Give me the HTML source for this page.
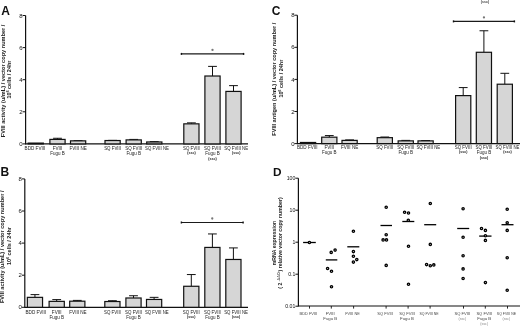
<!DOCTYPE html>
<html><head><meta charset="utf-8"><style>
html,body{margin:0;padding:0;background:#fff;}
body{width:520px;height:326px;overflow:hidden;}
svg{display:block;will-change:transform;font-family:"Liberation Sans", sans-serif;}
</style></head><body>
<svg width="520" height="326" viewBox="0 0 520 326">
<rect width="520" height="326" fill="#fff"/>
<text x="485" y="3.0" font-size="3.6" font-weight="bold" text-anchor="middle" fill="#444">(ssc)</text>
<text x="1.2" y="14.6" font-size="12" font-weight="bold" fill="#111">A</text>
<line x1="25.6" y1="15.5" x2="25.6" y2="144.5" stroke="#111" stroke-width="1.2"/>
<line x1="25.6" y1="143.9" x2="248" y2="143.9" stroke="#111" stroke-width="1.2"/>
<line x1="22.6" y1="143.9" x2="25.6" y2="143.9" stroke="#111" stroke-width="1"/>
<text x="22.7" y="146.05" font-size="6" text-anchor="end" fill="#111">0</text>
<line x1="22.6" y1="111.8" x2="25.6" y2="111.8" stroke="#111" stroke-width="1"/>
<text x="22.7" y="113.95" font-size="6" text-anchor="end" fill="#111">2</text>
<line x1="22.6" y1="79.7" x2="25.6" y2="79.7" stroke="#111" stroke-width="1"/>
<text x="22.7" y="81.85" font-size="6" text-anchor="end" fill="#111">4</text>
<line x1="22.6" y1="47.6" x2="25.6" y2="47.6" stroke="#111" stroke-width="1"/>
<text x="22.7" y="49.75" font-size="6" text-anchor="end" fill="#111">6</text>
<line x1="22.6" y1="15.5" x2="25.6" y2="15.5" stroke="#111" stroke-width="1"/>
<text x="22.7" y="17.65" font-size="6" text-anchor="end" fill="#111">8</text>
<text transform="translate(5.1,80.9) rotate(-90)" font-size="5.6" font-weight="bold" text-anchor="middle" fill="#222">FVIII activity (u/mL) / vector copy number /</text>
<text transform="translate(11.1,79.5) rotate(-90)" font-size="5.5" font-weight="bold" text-anchor="middle" fill="#222">10<tspan font-size="3.3" dy="-1.8">6</tspan><tspan dy="1.8"> cells / 24hr</tspan></text>
<rect x="28.15" y="143.1" width="15.2" height="0.8" fill="#d6d6d6" stroke="#111" stroke-width="1.2"/>
<text x="34.95" y="149.6" font-size="4.6" text-anchor="middle" fill="#222">BDD FVIII</text>
<line x1="57.5" y1="138.28" x2="57.5" y2="139.41" stroke="#111" stroke-width="1"/>
<line x1="53.1" y1="138.28" x2="61.9" y2="138.28" stroke="#111" stroke-width="1"/>
<rect x="49.9" y="139.41" width="15.2" height="4.49" fill="#d6d6d6" stroke="#111" stroke-width="1.2"/>
<text x="57.5" y="149.6" font-size="4.6" text-anchor="middle" fill="#222">FVIII</text>
<text x="57.5" y="154.9" font-size="4.5" text-anchor="middle" fill="#222">Fugu B</text>
<line x1="78.1" y1="140.69" x2="78.1" y2="140.85" stroke="#111" stroke-width="1"/>
<line x1="73.7" y1="140.69" x2="82.5" y2="140.69" stroke="#111" stroke-width="1"/>
<rect x="70.5" y="140.85" width="15.2" height="3.05" fill="#d6d6d6" stroke="#111" stroke-width="1.2"/>
<text x="78.1" y="149.6" font-size="4.6" text-anchor="middle" fill="#222">FVIII NE</text>
<line x1="112.6" y1="140.37" x2="112.6" y2="140.53" stroke="#111" stroke-width="1"/>
<line x1="108.2" y1="140.37" x2="117.0" y2="140.37" stroke="#111" stroke-width="1"/>
<rect x="105.0" y="140.53" width="15.2" height="3.37" fill="#d6d6d6" stroke="#111" stroke-width="1.2"/>
<text x="112.6" y="149.6" font-size="4.6" text-anchor="middle" fill="#222" textLength="16.9" lengthAdjust="spacingAndGlyphs">SQ FVIII</text>
<line x1="133.7" y1="139.41" x2="133.7" y2="139.89" stroke="#111" stroke-width="1"/>
<line x1="129.3" y1="139.41" x2="138.1" y2="139.41" stroke="#111" stroke-width="1"/>
<rect x="126.1" y="139.89" width="15.2" height="4.01" fill="#d6d6d6" stroke="#111" stroke-width="1.2"/>
<text x="133.7" y="149.6" font-size="4.6" text-anchor="middle" fill="#222" textLength="16.9" lengthAdjust="spacingAndGlyphs">SQ FVIII</text>
<text x="133.7" y="154.9" font-size="4.5" text-anchor="middle" fill="#222">Fugu B</text>
<line x1="154.3" y1="141.65" x2="154.3" y2="141.97" stroke="#111" stroke-width="1"/>
<line x1="149.9" y1="141.65" x2="158.7" y2="141.65" stroke="#111" stroke-width="1"/>
<rect x="146.7" y="141.97" width="15.2" height="1.93" fill="#d6d6d6" stroke="#111" stroke-width="1.2"/>
<text x="157.0" y="149.6" font-size="4.6" text-anchor="middle" fill="#222" textLength="23.8" lengthAdjust="spacingAndGlyphs">SQ FVIII NE</text>
<line x1="191.4" y1="122.87" x2="191.4" y2="123.84" stroke="#111" stroke-width="1"/>
<line x1="187.0" y1="122.87" x2="195.8" y2="122.87" stroke="#111" stroke-width="1"/>
<rect x="183.8" y="123.84" width="15.2" height="20.06" fill="#d6d6d6" stroke="#111" stroke-width="1.2"/>
<text x="191.4" y="149.6" font-size="4.6" text-anchor="middle" fill="#222" textLength="16.9" lengthAdjust="spacingAndGlyphs">SQ FVIII</text>
<text x="191.4" y="154.1" font-size="3.6" text-anchor="middle" fill="#222" font-weight="bold">(ssc)</text>
<line x1="212.5" y1="66.38" x2="212.5" y2="76.01" stroke="#111" stroke-width="1"/>
<line x1="208.1" y1="66.38" x2="216.9" y2="66.38" stroke="#111" stroke-width="1"/>
<rect x="204.9" y="76.01" width="15.2" height="67.89" fill="#d6d6d6" stroke="#111" stroke-width="1.2"/>
<text x="212.5" y="149.6" font-size="4.6" text-anchor="middle" fill="#222" textLength="16.9" lengthAdjust="spacingAndGlyphs">SQ FVIII</text>
<text x="212.5" y="154.9" font-size="4.5" text-anchor="middle" fill="#222">Fugu B</text>
<text x="212.5" y="159.5" font-size="3.6" text-anchor="middle" fill="#222" font-weight="bold">(ssc)</text>
<line x1="233.5" y1="85.64" x2="233.5" y2="91.42" stroke="#111" stroke-width="1"/>
<line x1="229.1" y1="85.64" x2="237.9" y2="85.64" stroke="#111" stroke-width="1"/>
<rect x="225.9" y="91.42" width="15.2" height="52.48" fill="#d6d6d6" stroke="#111" stroke-width="1.2"/>
<text x="236.2" y="149.6" font-size="4.6" text-anchor="middle" fill="#222" textLength="23.8" lengthAdjust="spacingAndGlyphs">SQ FVIII NE</text>
<text x="236.2" y="154.1" font-size="3.6" text-anchor="middle" fill="#222" font-weight="bold">(ssc)</text>
<line x1="181.4" y1="53.9" x2="243.6" y2="53.9" stroke="#1a1a1a" stroke-width="1.15"/>
<line x1="181.4" y1="52.9" x2="181.4" y2="54.9" stroke="#111" stroke-width="1.4"/>
<line x1="243.6" y1="52.9" x2="243.6" y2="54.9" stroke="#111" stroke-width="1.4"/>
<circle cx="212.5" cy="49.9" r="1.15" fill="#777"/>
<text x="0.6" y="176.2" font-size="12" font-weight="bold" fill="#111">B</text>
<line x1="24.8" y1="178.9" x2="24.8" y2="307.9" stroke="#111" stroke-width="1.2"/>
<line x1="24.8" y1="307.3" x2="248" y2="307.3" stroke="#111" stroke-width="1.2"/>
<line x1="21.8" y1="307.3" x2="24.8" y2="307.3" stroke="#111" stroke-width="1"/>
<text x="21.9" y="309.45" font-size="6" text-anchor="end" fill="#111">0</text>
<line x1="21.8" y1="275.2" x2="24.8" y2="275.2" stroke="#111" stroke-width="1"/>
<text x="21.9" y="277.35" font-size="6" text-anchor="end" fill="#111">2</text>
<line x1="21.8" y1="243.1" x2="24.8" y2="243.1" stroke="#111" stroke-width="1"/>
<text x="21.9" y="245.25" font-size="6" text-anchor="end" fill="#111">4</text>
<line x1="21.8" y1="211.0" x2="24.8" y2="211.0" stroke="#111" stroke-width="1"/>
<text x="21.9" y="213.15" font-size="6" text-anchor="end" fill="#111">6</text>
<line x1="21.8" y1="178.9" x2="24.8" y2="178.9" stroke="#111" stroke-width="1"/>
<text x="21.9" y="181.05" font-size="6" text-anchor="end" fill="#111">8</text>
<text transform="translate(4.3,246.8) rotate(-90)" font-size="5.6" font-weight="bold" text-anchor="middle" fill="#222">FVIII activity (u/mL) / vector copy number /</text>
<text transform="translate(10.6,246) rotate(-90)" font-size="5.5" font-weight="bold" text-anchor="middle" fill="#222">10<tspan font-size="3.3" dy="-1.8">6</tspan><tspan dy="1.8"> cells / 24hr</tspan></text>
<line x1="34.95" y1="294.62" x2="34.95" y2="297.35" stroke="#111" stroke-width="1"/>
<line x1="30.55" y1="294.62" x2="39.35" y2="294.62" stroke="#111" stroke-width="1"/>
<rect x="27.35" y="297.35" width="15.2" height="9.95" fill="#d6d6d6" stroke="#111" stroke-width="1.2"/>
<text x="35.85" y="313.5" font-size="4.6" text-anchor="middle" fill="#222">BDD FVIII</text>
<line x1="56.7" y1="299.6" x2="56.7" y2="301.36" stroke="#111" stroke-width="1"/>
<line x1="52.3" y1="299.6" x2="61.1" y2="299.6" stroke="#111" stroke-width="1"/>
<rect x="49.1" y="301.36" width="15.2" height="5.94" fill="#d6d6d6" stroke="#111" stroke-width="1.2"/>
<text x="56.7" y="313.5" font-size="4.6" text-anchor="middle" fill="#222">FVIII</text>
<text x="56.7" y="318.8" font-size="4.5" text-anchor="middle" fill="#222">Fugu B</text>
<line x1="77.3" y1="300.4" x2="77.3" y2="301.2" stroke="#111" stroke-width="1"/>
<line x1="72.9" y1="300.4" x2="81.7" y2="300.4" stroke="#111" stroke-width="1"/>
<rect x="69.7" y="301.2" width="15.2" height="6.1" fill="#d6d6d6" stroke="#111" stroke-width="1.2"/>
<text x="78.0" y="313.5" font-size="4.6" text-anchor="middle" fill="#222">FVIII NE</text>
<line x1="112.4" y1="300.72" x2="112.4" y2="301.52" stroke="#111" stroke-width="1"/>
<line x1="108" y1="300.72" x2="116.8" y2="300.72" stroke="#111" stroke-width="1"/>
<rect x="104.8" y="301.52" width="15.2" height="5.78" fill="#d6d6d6" stroke="#111" stroke-width="1.2"/>
<text x="112.4" y="313.5" font-size="4.6" text-anchor="middle" fill="#222" textLength="16.9" lengthAdjust="spacingAndGlyphs">SQ FVIII</text>
<line x1="133.5" y1="295.74" x2="133.5" y2="297.99" stroke="#111" stroke-width="1"/>
<line x1="129.1" y1="295.74" x2="137.9" y2="295.74" stroke="#111" stroke-width="1"/>
<rect x="125.9" y="297.99" width="15.2" height="9.31" fill="#d6d6d6" stroke="#111" stroke-width="1.2"/>
<text x="133.5" y="313.5" font-size="4.6" text-anchor="middle" fill="#222" textLength="16.9" lengthAdjust="spacingAndGlyphs">SQ FVIII</text>
<text x="133.5" y="318.8" font-size="4.5" text-anchor="middle" fill="#222">Fugu B</text>
<line x1="154.1" y1="297.35" x2="154.1" y2="299.44" stroke="#111" stroke-width="1"/>
<line x1="149.7" y1="297.35" x2="158.5" y2="297.35" stroke="#111" stroke-width="1"/>
<rect x="146.5" y="299.44" width="15.2" height="7.86" fill="#d6d6d6" stroke="#111" stroke-width="1.2"/>
<text x="156.8" y="313.5" font-size="4.6" text-anchor="middle" fill="#222" textLength="23.8" lengthAdjust="spacingAndGlyphs">SQ FVIII NE</text>
<line x1="191.3" y1="274.56" x2="191.3" y2="286.27" stroke="#111" stroke-width="1"/>
<line x1="186.9" y1="274.56" x2="195.7" y2="274.56" stroke="#111" stroke-width="1"/>
<rect x="183.7" y="286.27" width="15.2" height="21.03" fill="#d6d6d6" stroke="#111" stroke-width="1.2"/>
<text x="191.3" y="313.5" font-size="4.6" text-anchor="middle" fill="#222" textLength="16.9" lengthAdjust="spacingAndGlyphs">SQ FVIII</text>
<text x="191.3" y="318.0" font-size="3.6" text-anchor="middle" fill="#222" font-weight="bold">(ssc)</text>
<line x1="212.4" y1="233.95" x2="212.4" y2="247.43" stroke="#111" stroke-width="1"/>
<line x1="208" y1="233.95" x2="216.8" y2="233.95" stroke="#111" stroke-width="1"/>
<rect x="204.8" y="247.43" width="15.2" height="59.87" fill="#d6d6d6" stroke="#111" stroke-width="1.2"/>
<text x="212.4" y="313.5" font-size="4.6" text-anchor="middle" fill="#222" textLength="16.9" lengthAdjust="spacingAndGlyphs">SQ FVIII</text>
<text x="212.4" y="318.8" font-size="4.5" text-anchor="middle" fill="#222">Fugu B</text>
<line x1="233.4" y1="247.92" x2="233.4" y2="259.47" stroke="#111" stroke-width="1"/>
<line x1="229" y1="247.92" x2="237.8" y2="247.92" stroke="#111" stroke-width="1"/>
<rect x="225.8" y="259.47" width="15.2" height="47.83" fill="#d6d6d6" stroke="#111" stroke-width="1.2"/>
<text x="236.1" y="313.5" font-size="4.6" text-anchor="middle" fill="#222" textLength="23.8" lengthAdjust="spacingAndGlyphs">SQ FVIII NE</text>
<text x="236.1" y="318.0" font-size="3.6" text-anchor="middle" fill="#222" font-weight="bold">(ssc)</text>
<line x1="181.4" y1="222.5" x2="243.1" y2="222.5" stroke="#1a1a1a" stroke-width="1.15"/>
<line x1="181.4" y1="221.5" x2="181.4" y2="223.5" stroke="#111" stroke-width="1.4"/>
<line x1="243.1" y1="221.5" x2="243.1" y2="223.5" stroke="#111" stroke-width="1.4"/>
<circle cx="212.25" cy="218.5" r="1.15" fill="#777"/>
<text x="271.8" y="14.8" font-size="12" font-weight="bold" fill="#111">C</text>
<line x1="297.4" y1="15.2" x2="297.4" y2="144.2" stroke="#111" stroke-width="1.2"/>
<line x1="297.4" y1="143.6" x2="521" y2="143.6" stroke="#111" stroke-width="1.2"/>
<line x1="294.4" y1="143.6" x2="297.4" y2="143.6" stroke="#111" stroke-width="1"/>
<text x="294.5" y="145.75" font-size="6" text-anchor="end" fill="#111">0</text>
<line x1="294.4" y1="111.5" x2="297.4" y2="111.5" stroke="#111" stroke-width="1"/>
<text x="294.5" y="113.65" font-size="6" text-anchor="end" fill="#111">2</text>
<line x1="294.4" y1="79.4" x2="297.4" y2="79.4" stroke="#111" stroke-width="1"/>
<text x="294.5" y="81.55" font-size="6" text-anchor="end" fill="#111">4</text>
<line x1="294.4" y1="47.3" x2="297.4" y2="47.3" stroke="#111" stroke-width="1"/>
<text x="294.5" y="49.45" font-size="6" text-anchor="end" fill="#111">6</text>
<line x1="294.4" y1="15.2" x2="297.4" y2="15.2" stroke="#111" stroke-width="1"/>
<text x="294.5" y="17.35" font-size="6" text-anchor="end" fill="#111">8</text>
<text transform="translate(276.2,79.2) rotate(-90)" font-size="5.6" font-weight="bold" text-anchor="middle" fill="#222">FVIII antigen (u/mL) / vector copy number /</text>
<text transform="translate(282.5,78.6) rotate(-90)" font-size="5.5" font-weight="bold" text-anchor="middle" fill="#222">10<tspan font-size="3.3" dy="-1.8">6</tspan><tspan dy="1.8"> cells / 24hr</tspan></text>
<rect x="300.45" y="142.48" width="15.2" height="1.12" fill="#d6d6d6" stroke="#111" stroke-width="1.2"/>
<text x="307.25" y="148.6" font-size="4.6" text-anchor="middle" fill="#222">BDD FVIII</text>
<line x1="329.3" y1="135.57" x2="329.3" y2="137.18" stroke="#111" stroke-width="1"/>
<line x1="324.9" y1="135.57" x2="333.7" y2="135.57" stroke="#111" stroke-width="1"/>
<rect x="321.7" y="137.18" width="15.2" height="6.42" fill="#d6d6d6" stroke="#111" stroke-width="1.2"/>
<text x="329.3" y="148.6" font-size="4.6" text-anchor="middle" fill="#222">FVIII</text>
<text x="329.3" y="153.9" font-size="4.5" text-anchor="middle" fill="#222">Fugu B</text>
<line x1="349.6" y1="139.91" x2="349.6" y2="140.39" stroke="#111" stroke-width="1"/>
<line x1="345.2" y1="139.91" x2="354" y2="139.91" stroke="#111" stroke-width="1"/>
<rect x="342" y="140.39" width="15.2" height="3.21" fill="#d6d6d6" stroke="#111" stroke-width="1.2"/>
<text x="349.6" y="148.6" font-size="4.6" text-anchor="middle" fill="#222">FVIII NE</text>
<line x1="384.8" y1="137.02" x2="384.8" y2="137.66" stroke="#111" stroke-width="1"/>
<line x1="380.4" y1="137.02" x2="389.2" y2="137.02" stroke="#111" stroke-width="1"/>
<rect x="377.2" y="137.66" width="15.2" height="5.94" fill="#d6d6d6" stroke="#111" stroke-width="1.2"/>
<text x="384.8" y="148.6" font-size="4.6" text-anchor="middle" fill="#222" textLength="16.9" lengthAdjust="spacingAndGlyphs">SQ FVIII</text>
<line x1="405.75" y1="140.39" x2="405.75" y2="140.87" stroke="#111" stroke-width="1"/>
<line x1="401.35" y1="140.39" x2="410.15" y2="140.39" stroke="#111" stroke-width="1"/>
<rect x="398.15" y="140.87" width="15.2" height="2.73" fill="#d6d6d6" stroke="#111" stroke-width="1.2"/>
<text x="405.75" y="148.6" font-size="4.6" text-anchor="middle" fill="#222" textLength="16.9" lengthAdjust="spacingAndGlyphs">SQ FVIII</text>
<text x="405.75" y="153.9" font-size="4.5" text-anchor="middle" fill="#222">Fugu B</text>
<line x1="425.6" y1="140.55" x2="425.6" y2="140.87" stroke="#111" stroke-width="1"/>
<line x1="421.2" y1="140.55" x2="430.0" y2="140.55" stroke="#111" stroke-width="1"/>
<rect x="418.0" y="140.87" width="15.2" height="2.73" fill="#d6d6d6" stroke="#111" stroke-width="1.2"/>
<text x="428.3" y="148.6" font-size="4.6" text-anchor="middle" fill="#222" textLength="23.8" lengthAdjust="spacingAndGlyphs">SQ FVIII NE</text>
<line x1="463.2" y1="87.59" x2="463.2" y2="95.61" stroke="#111" stroke-width="1"/>
<line x1="458.8" y1="87.59" x2="467.6" y2="87.59" stroke="#111" stroke-width="1"/>
<rect x="455.6" y="95.61" width="15.2" height="47.99" fill="#d6d6d6" stroke="#111" stroke-width="1.2"/>
<text x="463.2" y="148.6" font-size="4.6" text-anchor="middle" fill="#222" textLength="16.9" lengthAdjust="spacingAndGlyphs">SQ FVIII</text>
<text x="463.2" y="153.1" font-size="3.6" text-anchor="middle" fill="#222" font-weight="bold">(ssc)</text>
<line x1="483.9" y1="30.77" x2="483.9" y2="52.28" stroke="#111" stroke-width="1"/>
<line x1="479.5" y1="30.77" x2="488.3" y2="30.77" stroke="#111" stroke-width="1"/>
<rect x="476.3" y="52.28" width="15.2" height="91.32" fill="#d6d6d6" stroke="#111" stroke-width="1.2"/>
<text x="483.9" y="148.6" font-size="4.6" text-anchor="middle" fill="#222" textLength="16.9" lengthAdjust="spacingAndGlyphs">SQ FVIII</text>
<text x="483.9" y="153.9" font-size="4.5" text-anchor="middle" fill="#222">Fugu B</text>
<text x="483.9" y="159.2" font-size="3.6" text-anchor="middle" fill="#222" font-weight="bold">(ssc)</text>
<line x1="504.8" y1="73.3" x2="504.8" y2="84.21" stroke="#111" stroke-width="1"/>
<line x1="500.4" y1="73.3" x2="509.2" y2="73.3" stroke="#111" stroke-width="1"/>
<rect x="497.2" y="84.21" width="15.2" height="59.39" fill="#d6d6d6" stroke="#111" stroke-width="1.2"/>
<text x="507.5" y="148.6" font-size="4.6" text-anchor="middle" fill="#222" textLength="23.8" lengthAdjust="spacingAndGlyphs">SQ FVIII NE</text>
<text x="507.5" y="153.1" font-size="3.6" text-anchor="middle" fill="#222" font-weight="bold">(ssc)</text>
<line x1="453.5" y1="21.4" x2="514.4" y2="21.4" stroke="#1a1a1a" stroke-width="1.15"/>
<line x1="453.5" y1="20.4" x2="453.5" y2="22.4" stroke="#111" stroke-width="1.4"/>
<line x1="514.4" y1="20.4" x2="514.4" y2="22.4" stroke="#111" stroke-width="1.4"/>
<circle cx="483.95" cy="17.4" r="1.15" fill="#777"/>
<text x="272.9" y="176.2" font-size="11.8" font-weight="bold" fill="#111">D</text>
<line x1="298.4" y1="178.2" x2="298.4" y2="306.6" stroke="#111" stroke-width="1.2"/>
<line x1="298.4" y1="306.0" x2="521" y2="306.0" stroke="#111" stroke-width="1.2"/>
<line x1="295.4" y1="178.2" x2="298.4" y2="178.2" stroke="#111" stroke-width="1"/>
<text x="295.4" y="180.1" font-size="5.2" text-anchor="end" fill="#111">100</text>
<line x1="295.4" y1="210.2" x2="298.4" y2="210.2" stroke="#111" stroke-width="1"/>
<text x="295.4" y="212.1" font-size="5.2" text-anchor="end" fill="#111">10</text>
<line x1="295.4" y1="242.2" x2="298.4" y2="242.2" stroke="#111" stroke-width="1"/>
<text x="295.4" y="244.1" font-size="5.2" text-anchor="end" fill="#111">1</text>
<line x1="295.4" y1="274.2" x2="298.4" y2="274.2" stroke="#111" stroke-width="1"/>
<text x="295.4" y="276.1" font-size="5.2" text-anchor="end" fill="#111">0.1</text>
<line x1="295.4" y1="306.2" x2="298.4" y2="306.2" stroke="#111" stroke-width="1"/>
<text x="295.4" y="308.1" font-size="5.2" text-anchor="end" fill="#111">0.01</text>
<text transform="translate(275.9,243) rotate(-90)" font-size="5.2" font-weight="bold" text-anchor="middle" fill="#222">mRNA expression</text>
<text transform="translate(281.6,243) rotate(-90)" font-size="5.2" font-weight="bold" text-anchor="middle" fill="#222">( 2<tspan font-size="3.6" dy="-1.9" fill="#555"> -ΔΔCt</tspan><tspan dy="1.9">) relative vector copy number)</tspan></text>
<line x1="309.5" y1="306.0" x2="309.5" y2="308.6" stroke="#111" stroke-width="0.9"/>
<text x="308.4" y="314.9" font-size="4.3" text-anchor="middle" fill="#444" textLength="17.8" lengthAdjust="spacingAndGlyphs">BDD FVIII</text>
<line x1="331.3" y1="306.0" x2="331.3" y2="308.6" stroke="#111" stroke-width="0.9"/>
<text x="330.2" y="314.9" font-size="4.3" text-anchor="middle" fill="#444">FVIII</text>
<text x="330.2" y="319.9" font-size="4.3" text-anchor="middle" fill="#444">Fugu B</text>
<line x1="353.6" y1="306.0" x2="353.6" y2="308.6" stroke="#111" stroke-width="0.9"/>
<text x="352.5" y="314.9" font-size="4.3" text-anchor="middle" fill="#444" textLength="14.4" lengthAdjust="spacingAndGlyphs">FVIII NE</text>
<line x1="386.1" y1="306.0" x2="386.1" y2="308.6" stroke="#111" stroke-width="0.9"/>
<text x="385.0" y="314.9" font-size="4.3" text-anchor="middle" fill="#444" textLength="15.6" lengthAdjust="spacingAndGlyphs">SQ FVIII</text>
<line x1="408.1" y1="306.0" x2="408.1" y2="308.6" stroke="#111" stroke-width="0.9"/>
<text x="407.0" y="314.9" font-size="4.3" text-anchor="middle" fill="#444" textLength="15.6" lengthAdjust="spacingAndGlyphs">SQ FVIII</text>
<text x="407.0" y="319.9" font-size="4.3" text-anchor="middle" fill="#444">Fugu B</text>
<line x1="430.1" y1="306.0" x2="430.1" y2="308.6" stroke="#111" stroke-width="0.9"/>
<text x="429.0" y="314.9" font-size="4.3" text-anchor="middle" fill="#444" textLength="19.2" lengthAdjust="spacingAndGlyphs">SQ FVIII NE</text>
<line x1="463.5" y1="306.0" x2="463.5" y2="308.6" stroke="#111" stroke-width="0.9"/>
<text x="462.4" y="314.9" font-size="4.3" text-anchor="middle" fill="#444" textLength="15.6" lengthAdjust="spacingAndGlyphs">SQ FVIII</text>
<text x="462.4" y="319.9" font-size="3.6" text-anchor="middle" fill="#888">(ssc)</text>
<line x1="485.3" y1="306.0" x2="485.3" y2="308.6" stroke="#111" stroke-width="0.9"/>
<text x="484.2" y="314.9" font-size="4.3" text-anchor="middle" fill="#444" textLength="15.6" lengthAdjust="spacingAndGlyphs">SQ FVIII</text>
<text x="484.2" y="319.9" font-size="4.3" text-anchor="middle" fill="#444">Fugu B</text>
<text x="484.2" y="324.9" font-size="3.6" text-anchor="middle" fill="#888">(ssc)</text>
<line x1="507.5" y1="306.0" x2="507.5" y2="308.6" stroke="#111" stroke-width="0.9"/>
<text x="506.4" y="314.9" font-size="4.3" text-anchor="middle" fill="#444" textLength="19.2" lengthAdjust="spacingAndGlyphs">SQ FVIII NE</text>
<text x="506.4" y="319.9" font-size="3.6" text-anchor="middle" fill="#888">(ssc)</text>
<line x1="303.1" y1="242.5" x2="315.8" y2="242.5" stroke="#000" stroke-width="1.3"/>
<line x1="325.8" y1="259.9" x2="337.3" y2="259.9" stroke="#000" stroke-width="1.3"/>
<line x1="347.3" y1="246.8" x2="359.3" y2="246.8" stroke="#000" stroke-width="1.3"/>
<line x1="380.5" y1="225.5" x2="392.0" y2="225.5" stroke="#000" stroke-width="1.3"/>
<line x1="402.3" y1="221.5" x2="414.3" y2="221.5" stroke="#000" stroke-width="1.3"/>
<line x1="424.2" y1="224.7" x2="436.2" y2="224.7" stroke="#000" stroke-width="1.3"/>
<line x1="457.2" y1="228.5" x2="469.2" y2="228.5" stroke="#000" stroke-width="1.3"/>
<line x1="479.2" y1="236.1" x2="491.5" y2="236.1" stroke="#000" stroke-width="1.3"/>
<line x1="501.5" y1="224.7" x2="513.5" y2="224.7" stroke="#000" stroke-width="1.3"/>
<circle cx="309.4" cy="242.5" r="1.15" fill="#d0d0d0" stroke="#000" stroke-width="1.3"/>
<circle cx="331.2" cy="252.4" r="1.15" fill="#d0d0d0" stroke="#000" stroke-width="1.3"/>
<circle cx="335.1" cy="250.1" r="1.15" fill="#d0d0d0" stroke="#000" stroke-width="1.3"/>
<circle cx="327.6" cy="268.5" r="1.15" fill="#d0d0d0" stroke="#000" stroke-width="1.3"/>
<circle cx="331.5" cy="271.2" r="1.15" fill="#d0d0d0" stroke="#000" stroke-width="1.3"/>
<circle cx="331.5" cy="286.8" r="1.15" fill="#d0d0d0" stroke="#000" stroke-width="1.3"/>
<circle cx="353.4" cy="231.2" r="1.15" fill="#d0d0d0" stroke="#000" stroke-width="1.3"/>
<circle cx="353.4" cy="251.6" r="1.15" fill="#d0d0d0" stroke="#000" stroke-width="1.3"/>
<circle cx="353.4" cy="256.3" r="1.15" fill="#d0d0d0" stroke="#000" stroke-width="1.3"/>
<circle cx="356.8" cy="259.6" r="1.15" fill="#d0d0d0" stroke="#000" stroke-width="1.3"/>
<circle cx="353.4" cy="262.1" r="1.15" fill="#d0d0d0" stroke="#000" stroke-width="1.3"/>
<circle cx="386.2" cy="207.3" r="1.15" fill="#d0d0d0" stroke="#000" stroke-width="1.3"/>
<circle cx="386.2" cy="234.7" r="1.15" fill="#d0d0d0" stroke="#000" stroke-width="1.3"/>
<circle cx="383.1" cy="239.9" r="1.15" fill="#d0d0d0" stroke="#000" stroke-width="1.3"/>
<circle cx="386.5" cy="239.9" r="1.15" fill="#d0d0d0" stroke="#000" stroke-width="1.3"/>
<circle cx="386.2" cy="265.4" r="1.15" fill="#d0d0d0" stroke="#000" stroke-width="1.3"/>
<circle cx="404.6" cy="212.2" r="1.15" fill="#d0d0d0" stroke="#000" stroke-width="1.3"/>
<circle cx="408.5" cy="213.0" r="1.15" fill="#d0d0d0" stroke="#000" stroke-width="1.3"/>
<circle cx="408.3" cy="220.3" r="1.15" fill="#d0d0d0" stroke="#000" stroke-width="1.3"/>
<circle cx="408.5" cy="246.2" r="1.15" fill="#d0d0d0" stroke="#000" stroke-width="1.3"/>
<circle cx="408.5" cy="284.3" r="1.15" fill="#d0d0d0" stroke="#000" stroke-width="1.3"/>
<circle cx="430.3" cy="203.5" r="1.15" fill="#d0d0d0" stroke="#000" stroke-width="1.3"/>
<circle cx="430.3" cy="244.4" r="1.15" fill="#d0d0d0" stroke="#000" stroke-width="1.3"/>
<circle cx="426.6" cy="264.6" r="1.15" fill="#d0d0d0" stroke="#000" stroke-width="1.3"/>
<circle cx="430.3" cy="265.8" r="1.15" fill="#d0d0d0" stroke="#000" stroke-width="1.3"/>
<circle cx="433.8" cy="264.9" r="1.15" fill="#d0d0d0" stroke="#000" stroke-width="1.3"/>
<circle cx="463.1" cy="208.8" r="1.15" fill="#d0d0d0" stroke="#000" stroke-width="1.3"/>
<circle cx="463.1" cy="237.3" r="1.15" fill="#d0d0d0" stroke="#000" stroke-width="1.3"/>
<circle cx="463.1" cy="255.8" r="1.15" fill="#d0d0d0" stroke="#000" stroke-width="1.3"/>
<circle cx="463.1" cy="268.9" r="1.15" fill="#d0d0d0" stroke="#000" stroke-width="1.3"/>
<circle cx="463.1" cy="278.5" r="1.15" fill="#d0d0d0" stroke="#000" stroke-width="1.3"/>
<circle cx="481.5" cy="228.5" r="1.15" fill="#d0d0d0" stroke="#000" stroke-width="1.3"/>
<circle cx="485.4" cy="230.4" r="1.15" fill="#d0d0d0" stroke="#000" stroke-width="1.3"/>
<circle cx="485.4" cy="235.8" r="1.15" fill="#d0d0d0" stroke="#000" stroke-width="1.3"/>
<circle cx="485.4" cy="240.4" r="1.15" fill="#d0d0d0" stroke="#000" stroke-width="1.3"/>
<circle cx="485.4" cy="282.6" r="1.15" fill="#d0d0d0" stroke="#000" stroke-width="1.3"/>
<circle cx="507.2" cy="209.3" r="1.15" fill="#d0d0d0" stroke="#000" stroke-width="1.3"/>
<circle cx="507.2" cy="222.7" r="1.15" fill="#d0d0d0" stroke="#000" stroke-width="1.3"/>
<circle cx="507.2" cy="230.4" r="1.15" fill="#d0d0d0" stroke="#000" stroke-width="1.3"/>
<circle cx="507.2" cy="257.7" r="1.15" fill="#d0d0d0" stroke="#000" stroke-width="1.3"/>
<circle cx="507.2" cy="290.3" r="1.15" fill="#d0d0d0" stroke="#000" stroke-width="1.3"/>
</svg>
</body></html>
